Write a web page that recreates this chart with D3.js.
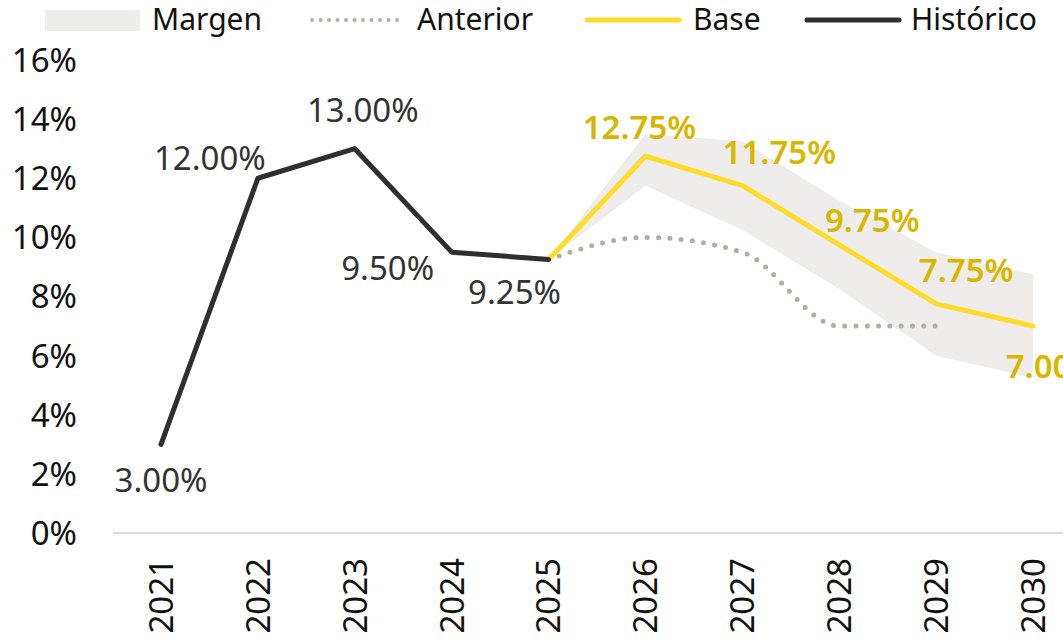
<!DOCTYPE html>
<html>
<head>
<meta charset="utf-8">
<script src="https://cdn.jsdelivr.net/npm/d3@7"></script>
<style>
  body { margin: 0; background: #fff; }
  svg { font-family: "Noto Sans", sans-serif; }
</style>
</head>
<body>
<div id="chart"></div>
<script>
var years = ["2021","2022","2023","2024","2025","2026","2027","2028","2029","2030"];
var historico = [3.00, 12.00, 13.00, 9.50, 9.25];
var baseYears = ["2025","2026","2027","2028","2029","2030"];
var base = [9.25, 12.75, 11.75, 9.75, 7.75, 7.00];
var anteriorYears = ["2025","2026","2027","2028","2029"];
var anterior = [9.25, 10.0, 9.5, 7.0, 7.0];
var margenUpper = [9.25, 13.5, 13.25, 11.25, 9.5, 8.75];
var margenLower = [9.25, 11.75, 10.25, 8.25, 6.0, 5.25];
var yTicks = [0, 2, 4, 6, 8, 10, 12, 14, 16];

var w = 1063, h = 642;
var fs = "33px";
var svg = d3.select("#chart").append("svg")
  .attr("width", w)
  .attr("height", h)

var x = d3.scalePoint().domain(years).range([161, 1033]);
var y = d3.scaleLinear().domain([0, 16]).range([533, 60]);

var colors = {hist: "#2f2f2f", base: "#ffdc2a", baseLabel: "#d9b600", ant: "#b2ada7", band: "#eeedeb"};

// margin band
var band = baseYears.map(function(d, i){ return {year: d, lo: margenLower[i], hi: margenUpper[i]} });
svg.append("path")
  .datum(band)
  .attr("fill", colors.band)
  .attr("d", d3.area()
    .x(function(d){ return x(d.year) })
    .y0(function(d){ return y(d.lo) })
    .y1(function(d){ return y(d.hi) }));

// y axis labels
svg.selectAll(".ytick")
  .data(yTicks)
  .enter()
    .append("text")
      .attr("x", 77)
      .attr("y", function(d){ return y(d) })
      .attr("dy", "0.36em")
      .attr("text-anchor", "end")
      .style("font-size", fs)
      .style("fill", "#111")
      .text(function(d){ return d + "%" })

// baseline
svg.append("line")
  .attr("x1", 113).attr("x2", w)
  .attr("y1", y(0)).attr("y2", y(0))
  .attr("stroke", "#d9d9d9")
  .attr("stroke-width", 2)

// x labels
svg.selectAll(".xtick")
  .data(years)
  .enter()
    .append("text")
      .attr("transform", function(d){ return "translate(" + x(d) + ",558) rotate(-90)" })
      .attr("text-anchor", "end")
      .attr("dy", "0.36em")
      .style("font-size", fs)
      .style("fill", "#111")
      .text(function(d){ return d })

// anterior dotted
var ant = anteriorYears.map(function(d, i){ return {year: d, v: anterior[i]} });
svg.append("path")
  .datum(ant)
  .attr("fill", "none")
  .attr("stroke", colors.ant)
  .attr("stroke-width", 5)
  .attr("stroke-linecap", "round")
  .attr("stroke-dasharray", "0,11.3")
  .attr("d", d3.line().curve(d3.curveMonotoneX)
    .x(function(d){ return x(d.year) })
    .y(function(d){ return y(d.v) }));

// base line
var bs = baseYears.map(function(d, i){ return {year: d, v: base[i]} });
svg.append("path")
  .datum(bs)
  .attr("fill", "none")
  .attr("stroke", colors.base)
  .attr("stroke-width", 5)
  .attr("stroke-linejoin", "round")
  .attr("stroke-linecap", "round")
  .attr("d", d3.line()
    .x(function(d){ return x(d.year) })
    .y(function(d){ return y(d.v) }));

// historico line
var hs = historico.map(function(v, i){ return {year: years[i], v: v} });
svg.append("path")
  .datum(hs)
  .attr("fill", "none")
  .attr("stroke", colors.hist)
  .attr("stroke-width", 5)
  .attr("stroke-linejoin", "round")
  .attr("stroke-linecap", "round")
  .attr("d", d3.line()
    .x(function(d){ return x(d.year) })
    .y(function(d){ return y(d.v) }));

// data labels (offsets relative to point)
var histOff = [[0, 36], [-48, -20], [8, -39], [-64, 16], [-34, 33]];
var baseOff = [null, [-6, -29], [37, -34], [33, -25], [30, -34], [20, 40]];

svg.selectAll(".hlab")
  .data(hs)
  .enter()
    .append("text")
      .attr("x", function(d, i){ return x(d.year) + histOff[i][0] })
      .attr("y", function(d, i){ return y(d.v) + histOff[i][1] })
      .attr("dy", "0.36em")
      .attr("text-anchor", "middle")
      .style("font-size", fs)
      .style("fill", "#333")
      .text(function(d){ return d.v.toFixed(2) + "%" })

svg.selectAll(".blab")
  .data(bs.slice(1))
  .enter()
    .append("text")
      .attr("x", function(d, i){ return x(d.year) + baseOff[i + 1][0] })
      .attr("y", function(d, i){ return y(d.v) + baseOff[i + 1][1] })
      .attr("dy", "0.36em")
      .attr("text-anchor", "middle")
      .style("font-size", fs)
      .style("font-weight", "600")
      .style("fill", colors.baseLabel)
      .text(function(d){ return d.v.toFixed(2) + "%" })

// legend
var lg = svg.append("g")
lg.append("rect").attr("x", 45).attr("y", 10).attr("width", 95).attr("height", 21).attr("fill", colors.band)
lg.append("line").attr("x1", 312).attr("x2", 404).attr("y1", 20).attr("y2", 20)
  .attr("stroke", colors.ant).attr("stroke-width", 4).attr("stroke-linecap", "round").attr("stroke-dasharray", "0,8.5")
lg.append("line").attr("x1", 587).attr("x2", 679).attr("y1", 20).attr("y2", 20)
  .attr("stroke", colors.base).attr("stroke-width", 5).attr("stroke-linecap", "round")
lg.append("line").attr("x1", 807).attr("x2", 899).attr("y1", 20).attr("y2", 20)
  .attr("stroke", colors.hist).attr("stroke-width", 5).attr("stroke-linecap", "round")

var legendLabels = [["Margen", 152], ["Anterior", 417], ["Base", 693], ["Histórico", 911]];
lg.selectAll(".ltxt")
  .data(legendLabels)
  .enter()
    .append("text")
      .attr("x", function(d){ return d[1] })
      .attr("y", 30)
      .style("font-size", "30px")
      .style("fill", "#111")
      .text(function(d){ return d[0] })
</script>
</body>
</html>
